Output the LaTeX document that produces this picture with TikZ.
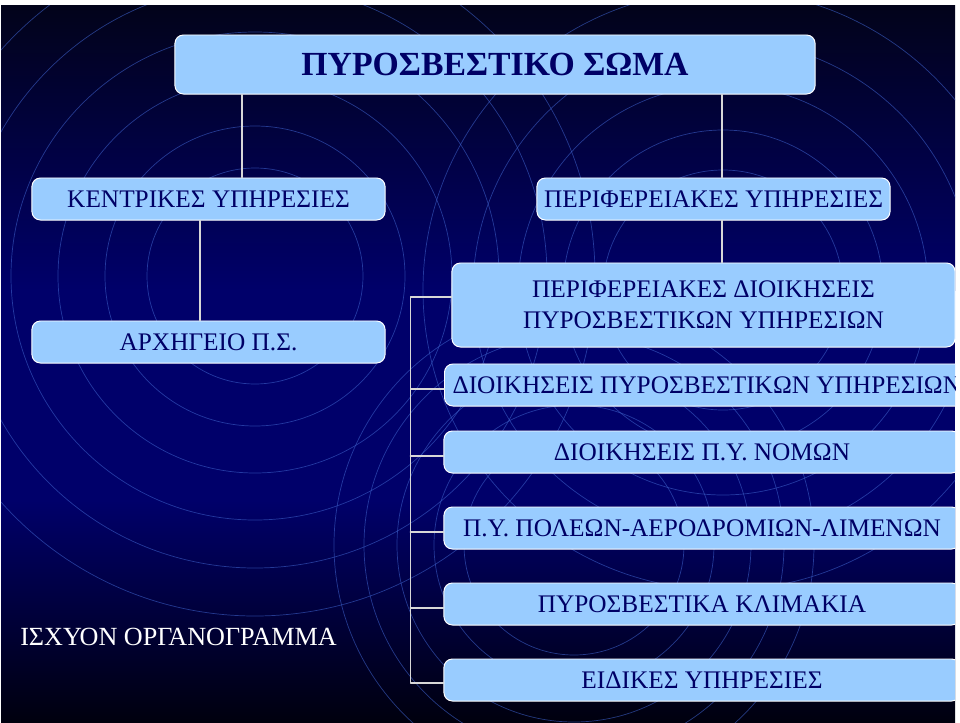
\documentclass[tikz,border=0pt]{standalone}
\usepackage{fontspec}
\setmainfont{Liberation Serif}
\usepackage{xcolor}
\usepackage{tikz}
\usetikzlibrary{positioning,calc}

\definecolor{slidetop}{RGB}{2,3,26}
\definecolor{slidemid}{RGB}{0,0,106}
\definecolor{slidebot}{RGB}{0,0,14}
\definecolor{ringblue}{RGB}{60,95,200}
\definecolor{boxblue}{RGB}{153,204,255}
\definecolor{textnavy}{RGB}{0,0,102}
\definecolor{wiregrey}{RGB}{215,215,215}

\begin{document}
\begin{tikzpicture}[x=0.025cm, y=-0.025cm, line cap=round, line join=round]
	% ===== περιθώρια =====
	\useasboundingbox (0,0) rectangle (960,723);
	\fill[white] (0,0) rectangle (960,723);
	
	% ===== φόντο διαφάνειας =====
	\shade[top color=slidetop, bottom color=slidemid] (1,5) rectangle (955,290);
	\fill[slidemid] (1,289) rectangle (955,501);
	\shade[top color=slidemid, bottom color=slidebot] (1,500) rectangle (955,722);
	
	\begin{scope}
		\clip (1,5) rectangle (955,722);
		
		% ===== ομόκεντροι κύκλοι =====
		\foreach \r in {108,150,197,244,292,340}{
			\draw[ringblue, opacity=0.6, line width=0.5pt] (255,276) circle (\r);
		}
		\foreach \r in {120,160,205,250,300}{
			\draw[ringblue, opacity=0.6, line width=0.5pt] (723,290) circle (\r);
		}
		\foreach \r in {110,140,177,210,240}{
			\draw[ringblue, opacity=0.6, line width=0.5pt] (574,545) circle (\r);
		}
		
		% ===== στυλ κουτιών =====
		\tikzset{unit/.style={draw=white, line width=0.7pt, fill=boxblue, rounded corners=6pt, text=textnavy, inner sep=0pt, minimum height=1.05cm, font=\fontsize{18}{22}\selectfont}}
		\tikzset{wire/.style={draw=wiregrey, line width=1.1pt}}
		
		% ===== κουτιά =====
		\node[unit, minimum width=16cm, minimum height=1.475cm, font=\bfseries\fontsize{24}{28}\selectfont] (title) at (495,64.5) {ΠΥΡΟΣΒΕΣΤΙΚΟ ΣΩΜΑ};
		\node[unit, minimum width=8.825cm] (kentrikes) at (208.5,199) {ΚΕΝΤΡΙΚΕΣ ΥΠΗΡΕΣΙΕΣ};
		\node[unit, minimum width=8.825cm] (periferiakes) at (713.5,199) {ΠΕΡΙΦΕΡΕΙΑΚΕΣ ΥΠΗΡΕΣΙΕΣ};
		\node[unit, minimum width=8.825cm] (archigeio) at (208.5,342) {ΑΡΧΗΓΕΙΟ Π.Σ.};
		\node[unit, minimum width=12.575cm, minimum height=2.1cm, align=center] (perdioik) at (703.5,305) {ΠΕΡΙΦΕΡΕΙΑΚΕΣ ΔΙΟΙΚΗΣΕΙΣ\\ΠΥΡΟΣΒΕΣΤΙΚΩΝ ΥΠΗΡΕΣΙΩΝ};
		\node[unit, minimum width=12.9cm, anchor=west, inner xsep=0.2cm] (dioik) at (444,385) {ΔΙΟΙΚΗΣΕΙΣ ΠΥΡΟΣΒΕΣΤΙΚΩΝ ΥΠΗΡΕΣΙΩΝ};
		\node[unit, minimum width=12.9cm] (nomon) at (702,452) {ΔΙΟΙΚΗΣΕΙΣ Π.Υ. ΝΟΜΩΝ};
		\node[unit, minimum width=12.9cm] (poleon) at (702,528) {Π.Υ. ΠΟΛΕΩΝ-ΑΕΡΟΔΡΟΜΙΩΝ-ΛΙΜΕΝΩΝ};
		\node[unit, minimum width=12.9cm] (klimakia) at (702,604) {ΠΥΡΟΣΒΕΣΤΙΚΑ ΚΛΙΜΑΚΙΑ};
		\node[unit, minimum width=12.9cm] (eidikes) at (702,680) {ΕΙΔΙΚΕΣ ΥΠΗΡΕΣΙΕΣ};
		
		\node[text=white, font=\fontsize{18.6}{22}\selectfont] (isxyon) at (178.5,637) {ΙΣΧΥΟΝ ΟΡΓΑΝΟΓΡΑΜΜΑ};
		
		% ===== γραμμές =====
		\coordinate (kdrop) at ($(kentrikes.north)+(33.5,0)$);
		\coordinate (adrop) at ($(kentrikes.south)+(-8.5,0)$);
		\coordinate (pdrop) at ($(periferiakes.north)+(8.5,0)$);
		\draw[wire] (kdrop) -- (kdrop |- title.south);
		\draw[wire] (adrop) -- (adrop |- archigeio.north);
		\draw[wire] (pdrop) -- (pdrop |- title.south);
		\draw[wire] (pdrop |- periferiakes.south) -- (pdrop |- perdioik.north);
		
		\coordinate (bustop) at ($(perdioik.west)+(0,-8)$);
		\coordinate (busend) at ($(eidikes.west)+(0,3)$);
		\draw[wire] (bustop) -- ++(-41,0) |- (busend);
		\foreach \b in {dioik,nomon,poleon,klimakia}{
			\draw[wire] ($(\b.west)+(0,4)$) -- ++(-33,0);
		}
	\end{scope}
\end{tikzpicture}
\end{document}
